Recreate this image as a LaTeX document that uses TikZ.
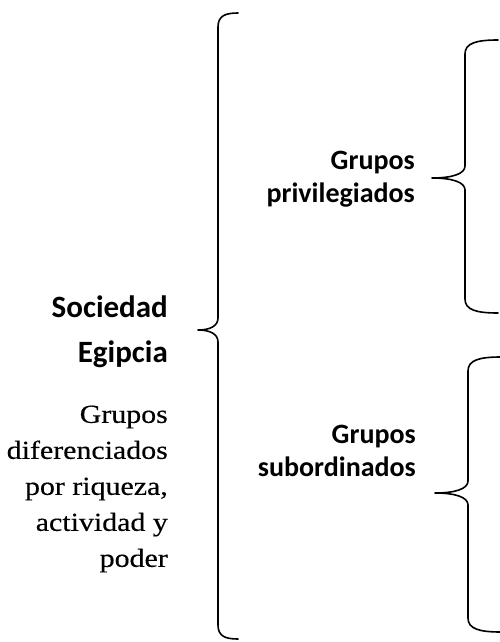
\documentclass[tikz,border=0pt]{standalone}
\usepackage{fontspec}
\usepackage{tikz}
\usetikzlibrary{positioning}
\newfontfamily\calibri{Carlito}
\newfontfamily\cambria[FakeStretch=1.15,FakeBold=0.4]{Liberation Serif}
% llave: x del lomo, profundidad, y arriba, y pico, y abajo
\newcommand{\llave}[5]{%
  \draw[llavelinea] ({#1+#2},#3) .. controls ({#1+0.35*#2},#3) and (#1,{#3+3}) .. (#1,{#3+14})
    -- (#1,{#4-12}) .. controls (#1,{#4-4}) and ({#1-0.4*#2},#4) .. ({#1-#2},#4)
    .. controls ({#1-0.4*#2},#4) and (#1,{#4+4}) .. (#1,{#4+12})
    -- (#1,{#5-14}) .. controls (#1,{#5-3}) and ({#1+0.35*#2},#5) .. ({#1+#2},#5);}

\begin{document}
\begin{tikzpicture}[x=1pt,y=-1pt,
    llavelinea/.style={line width=1.6pt, line cap=round, line join=round},
    titulo/.style={font=\calibri\bfseries\fontsize{31}{45}\selectfont, align=right, inner sep=0pt, anchor=east},
    grupo/.style={font=\calibri\bfseries\fontsize{28}{33}\selectfont, align=right, inner sep=0pt, anchor=east},
    nota/.style={font=\cambria\fontsize{26}{36}\selectfont, align=right, inner sep=0pt, anchor=east}]
     \useasboundingbox (0,0) rectangle (499,642);
     % textos
     \node[titulo] (sociedad) at (168,332) {Sociedad\\Egipcia};
     \node[nota] (rasgos) at (168,489) {Grupos\\diferenciados\\por riqueza,\\actividad y\\poder};
     \node[grupo] (privilegiados) at (415,179) {Grupos\\privilegiados};
     \node[grupo] (subordinados) at (416,451) {Grupos\\subordinados};
     % llaves
     \llave{218}{20}{13}{330}{639}
     \llave{465}{33}{40}{178}{313}
     \llave{468}{33}{357}{493}{632}
   \end{tikzpicture}
\end{document}
